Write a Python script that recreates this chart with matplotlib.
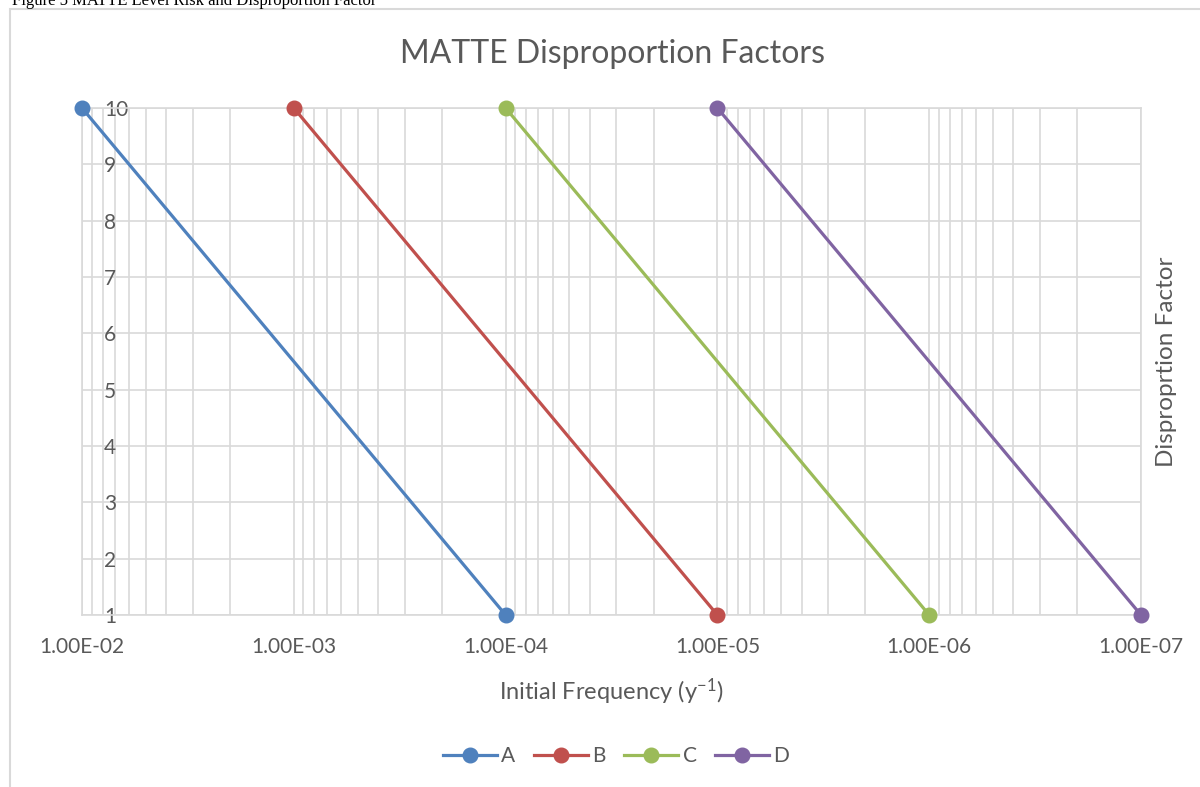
import numpy as np
import matplotlib
matplotlib.use("Agg")
import matplotlib.pyplot as plt
from matplotlib.ticker import LogLocator, FuncFormatter, NullFormatter
from matplotlib.patches import Rectangle

# data
series_names = ["A", "B", "C", "D"]
series_colors = ["#4F81BD", "#C0504D", "#9BBB59", "#8064A2"]
freq_A = [1e-2, 1e-4]
freq_B = [1e-3, 1e-5]
freq_C = [1e-4, 1e-6]
freq_D = [1e-5, 1e-7]
factor = [10, 1]
y_ticks = [1, 2, 3, 4, 5, 6, 7, 8, 9, 10]

plt.rcParams["font.family"] = ["Lato", "DejaVu Sans"]
plt.rcParams["mathtext.fontset"] = "custom"
plt.rcParams["mathtext.rm"] = "Lato"
plt.rcParams["mathtext.it"] = "Lato:italic"
text_col = "#595959"
grid_col = "#d9d9d9"

fig = plt.figure(figsize=(12, 7.87), dpi=100)
ax = fig.add_axes([82 / 1200, 1 - 615 / 787, (1141 - 82) / 1200, (615 - 108) / 787])

# chart border and caption above it
fig.add_artist(Rectangle((10 / 1200, -0.2), 1.5, 0.2 + 1 - 9 / 787,
                         transform=fig.transFigure, fill=False,
                         edgecolor=grid_col, linewidth=1.5))
fig.text(12 / 1200, 1 - 5 / 787, "Figure 5 MATTE Level Risk and Disproportion Factor",
         family="Liberation Serif", fontsize=12, color="black", va="baseline")

for name, col, fr in zip(series_names, series_colors, [freq_A, freq_B, freq_C, freq_D]):
    ax.plot(fr, factor, color=col, lw=2.3, marker="o", ms=10.5,
            label=name, clip_on=False, zorder=5)

ax.set_xscale("log")
ax.set_xlim(1e-2, 1e-7)
ax.set_ylim(1, 10)
ax.set_yticks(y_ticks)

ax.xaxis.set_major_locator(LogLocator(base=10, numticks=10))
ax.xaxis.set_minor_locator(LogLocator(base=10, subs=np.arange(2, 10), numticks=20))
ax.xaxis.set_major_formatter(FuncFormatter(lambda v, p: f"{v:.2E}"))
ax.xaxis.set_minor_formatter(NullFormatter())

ax.grid(True, which="both", axis="x", color=grid_col, lw=1.2)
ax.grid(True, which="major", axis="y", color=grid_col, lw=1.2)
ax.set_axisbelow(True)
for s in ax.spines.values():
    s.set_color(grid_col)
    s.set_linewidth(1.2)

ax.tick_params(axis="both", which="both", length=0, colors=text_col, labelsize=15)
ax.tick_params(axis="x", pad=16)
ax.tick_params(axis="y", pad=-16)
for lab in ax.get_yticklabels():
    lab.set_horizontalalignment("left")

ax.set_xlabel("Initial Frequency (y$^{-1}$)", fontsize=17, color=text_col, labelpad=14)
ax.yaxis.set_label_position("right")
ax.set_ylabel("Disproprtion Factor", fontsize=17.5, color=text_col, labelpad=11)
fig.text(612 / 1200, 1 - 63 / 787, "MATTE Disproportion Factors", fontsize=23,
         color=text_col, ha="center", va="baseline")

fig.legend(loc="center", bbox_to_anchor=(616 / 1200, 1 - 756 / 787), ncol=4, frameon=False,
           fontsize=15, labelcolor=text_col, handlelength=2.6, handletextpad=0.2,
           columnspacing=0.9)

fig.savefig("out.png", dpi=100)
